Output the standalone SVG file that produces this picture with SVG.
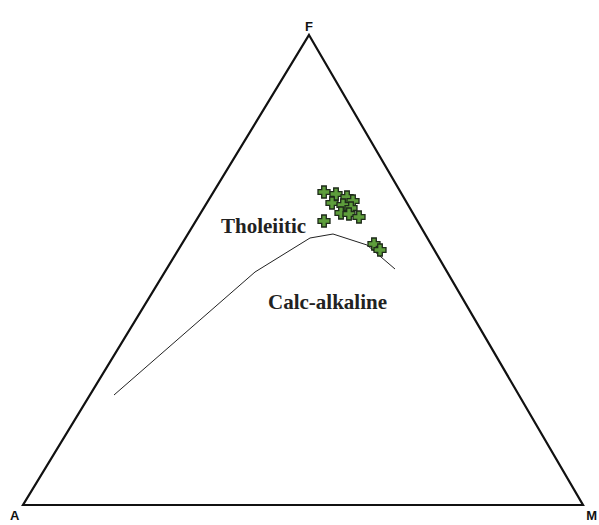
<svg xmlns="http://www.w3.org/2000/svg" width="599" height="525" viewBox="0 0 599 525">
<style>
.lbl{font-family:"Liberation Serif",serif;font-weight:bold;font-size:21px;fill:#222}
.ax{font-family:"Liberation Sans",sans-serif;font-weight:bold;font-size:13px;fill:#111}
.pt{fill:#5e9e3c;stroke:#1e2a1a;stroke-width:1.3}
</style>
<defs>
<path id="cr" class="pt" d="M-2.3,-6H2.3V-2.3H6V2.3H2.3V6H-2.3V2.3H-6V-2.3H-2.3Z"/>
</defs>
<rect width="599" height="525" fill="#fff"/>
<g id="triangle">
<path d="M309,35 L583,505 L23,505 Z" fill="none" stroke="#111" stroke-width="2.2" stroke-linejoin="miter"/>
</g>
<g id="connectors">
<polyline points="114,395 255,272 310,238 333,234 367,245 395,269" fill="none" stroke="#222" stroke-width="1"/>
</g>
<g id="points">
<use href="#cr" x="324" y="192"/>
<use href="#cr" x="336" y="194"/>
<use href="#cr" x="347" y="197"/>
<use href="#cr" x="353" y="201"/>
<use href="#cr" x="332" y="203"/>
<use href="#cr" x="343" y="205"/>
<use href="#cr" x="351" y="208"/>
<use href="#cr" x="341" y="213"/>
<use href="#cr" x="349" y="214"/>
<use href="#cr" x="359" y="217"/>
<use href="#cr" x="324" y="221"/>
<use href="#cr" x="374" y="244"/>
<use href="#cr" x="380" y="250"/>
</g>
<g id="labels">
<text class="ax" x="309" y="31" text-anchor="middle">F</text>
<text class="ax" x="10" y="520">A</text>
<text class="ax" x="597" y="520" text-anchor="end">M</text>
<text class="lbl" x="221" y="233">Tholeiitic</text>
<text class="lbl" x="268" y="309">Calc-alkaline</text>
</g>
</svg>
